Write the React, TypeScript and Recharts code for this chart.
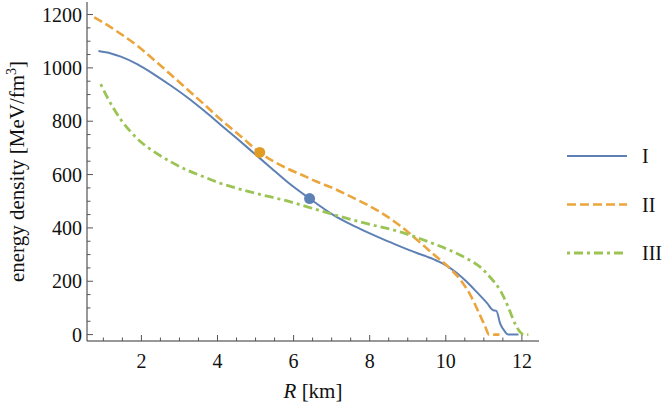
import React from "react";
import { LineChart, Line, XAxis, YAxis, ReferenceDot, Legend } from "recharts";

// radius R [km] and energy density [MeV/fm^3] for each model
const radiusI = [0.87, 1.2, 1.46, 1.9, 2.34, 2.77, 3.21, 3.65, 4.08, 4.52, 4.96, 5.4, 5.83, 6.42, 7.05, 7.49, 7.93, 8.36, 8.8, 9.24, 9.67, 10.03, 10.29, 10.55, 10.81, 11.08, 11.25, 11.33, 11.43, 11.56, 11.64, 11.91];
const densityI = [1063, 1054, 1042, 1013, 975, 934, 889, 839, 787, 734, 680, 626, 573, 510, 448, 414, 384, 357, 331, 306, 283, 258, 231, 198, 160, 119, 91, 89, 41, 10, 0, 0];

const radiusII = [0.76, 1.11, 1.46, 1.9, 2.34, 2.77, 3.21, 3.65, 4.08, 4.6, 5.11, 5.83, 6.18, 6.6, 7.05, 7.49, 7.93, 8.36, 8.8, 9.24, 9.67, 10.11, 10.38, 10.64, 10.86, 11.03, 11.14, 11.41];
const densityII = [1189, 1160, 1127, 1082, 1029, 975, 919, 863, 807, 745, 683, 623, 601, 574, 548, 518, 487, 452, 408, 356, 302, 248, 206, 150, 85, 32, 0, 0];

const radiusIII = [0.93, 1.11, 1.29, 1.46, 1.72, 1.98, 2.34, 2.77, 3.21, 3.65, 4.08, 4.52, 4.96, 5.4, 5.83, 6.36, 7.05, 7.93, 8.8, 9.67, 10.11, 10.55, 10.9, 11.16, 11.43, 11.64, 11.82, 11.95, 12.06, 12.17];
const densityIII = [939, 888, 843, 806, 760, 723, 685, 648, 616, 591, 567, 548, 531, 516, 501, 479, 450, 416, 385, 341, 316, 285, 254, 216, 166, 104, 41, 10, 0, 0];

// highlighted points on curves I and II
const markerRadius = [6.42, 5.11];
const markerDensity = [510, 683];

const seriesNames = ["I", "II", "III"];

const xMajorTicks = [2, 4, 6, 8, 10, 12];
const yMajorTicks = [0, 200, 400, 600, 800, 1000, 1200];

const steps = (from: number, to: number, step: number) => {
  const out: number[] = [];
  for (let v = from; v <= to + 1e-9; v += step) out.push(Math.round(v * 100) / 100);
  return out;
};
const xTicks = steps(1, 12, 0.5);
const yTicks = steps(0, 1200, 50);

const toRows = (xs: number[], ys: number[]) => xs.map((x, i) => ({ x, y: ys[i] }));

const FONT = "'Liberation Serif', 'DejaVu Serif', serif";
const TICK = "#555";
const FRAME = "#333";
const textStyle = { fontFamily: FONT, fontSize: 20 };

const styles = [
  { color: "#5E81B5", width: 2, dash: undefined as string | undefined },
  { color: "#EBA53C", width: 2.6, dash: "9 4" },
  { color: "#9BC455", width: 2.8, dash: "3 4 9 4" },
];
const markerColors = ["#5E81B5", "#E19C24"];

const series = [
  toRows(radiusI, densityI),
  toRows(radiusII, densityII),
  toRows(radiusIII, densityIII),
];

const XDOMAIN: [number, number] = [0.57, 12.45];
const YDOMAIN: [number, number] = [-24, 1247];

const tickLen = (major: boolean) => (major ? 6 : 3.5);

const BottomTick = (props: any) => {
  const { x, y, payload } = props;
  const major = xMajorTicks.includes(payload.value);
  return (
    <g>
      <line x1={x} y1={y} x2={x} y2={y - tickLen(major)} stroke={TICK} />
      {major && (
        <text x={x} y={y + 27} textAnchor="middle" style={textStyle} fill="#111">
          {payload.value}
        </text>
      )}
    </g>
  );
};

const TopTick = (props: any) => {
  const { x, y, payload } = props;
  const major = xMajorTicks.includes(payload.value);
  return <line x1={x} y1={y} x2={x} y2={y + tickLen(major)} stroke={TICK} />;
};

const LeftTick = (props: any) => {
  const { x, y, payload } = props;
  const major = yMajorTicks.includes(payload.value);
  return (
    <g>
      <line x1={x} y1={y} x2={x + tickLen(major)} y2={y} stroke={TICK} />
      {major && (
        <text x={x - 5} y={y + 7} textAnchor="end" style={textStyle} fill="#111">
          {payload.value}
        </text>
      )}
    </g>
  );
};

const RightTick = (props: any) => {
  const { x, y, payload } = props;
  const major = yMajorTicks.includes(payload.value);
  return <line x1={x} y1={y} x2={x - tickLen(major)} y2={y} stroke={TICK} />;
};

const YTitle = (props: any) => {
  const vb = props.viewBox;
  const cy = vb.y + vb.height / 2;
  return (
    <text
      transform={`translate(24, ${cy}) rotate(-90)`}
      textAnchor="middle"
      style={{ fontFamily: FONT, fontSize: 21 }}
      fill="#111"
    >
      <tspan>energy density [MeV/fm</tspan>
      <tspan dy={-8} style={{ fontSize: 14 }}>3</tspan>
      <tspan dy={8}>]</tspan>
    </text>
  );
};

const XTitle = (props: any) => {
  const vb = props.viewBox;
  return (
    <text x={vb.x + vb.width / 2} y={vb.y + 57} textAnchor="middle" style={{ fontFamily: FONT, fontSize: 21 }} fill="#111">
      <tspan style={{ fontStyle: "italic" }}>R</tspan>
      <tspan> [km]</tspan>
    </text>
  );
};

const LegendBox = () => (
  <svg width={105} height={140}>
    {seriesNames.map((name, i) => {
      const y = 21 + i * 48.5;
      const s = styles[i];
      return (
        <g key={name}>
          <line x1={7} y1={y} x2={67} y2={y} stroke={s.color} strokeWidth={s.width} strokeDasharray={s.dash} />
          <text x={82} y={y + 7} style={textStyle} fill="#111">
            {name}
          </text>
        </g>
      );
    })}
  </svg>
);

export default function App() {
  return (
    <div style={{ position: "absolute", left: 0, top: 0, background: "#fff" }}>
      <LineChart width={665} height={413} margin={{ top: 2, right: 126, bottom: 0, left: 0 }}>
        <XAxis
          dataKey="x"
          type="number"
          domain={XDOMAIN}
          allowDataOverflow
          ticks={xTicks}
          interval={0}
          tickLine={false}
          tickSize={0}
          tickMargin={0}
          tick={BottomTick}
          axisLine={{ stroke: FRAME }}
          height={72}
          label={XTitle}
        />
        <XAxis
          xAxisId="top"
          orientation="top"
          type="number"
          domain={XDOMAIN}
          allowDataOverflow
          ticks={xTicks}
          interval={0}
          tickLine={false}
          tickSize={0}
          tickMargin={0}
          tick={TopTick}
          axisLine={{ stroke: FRAME }}
          height={0}
        />
        <YAxis
          type="number"
          domain={YDOMAIN}
          allowDataOverflow
          ticks={yTicks}
          interval={0}
          tickLine={false}
          tickSize={0}
          tickMargin={0}
          tick={LeftTick}
          axisLine={{ stroke: FRAME }}
          width={87}
          label={YTitle}
        />
        <YAxis
          yAxisId="right"
          orientation="right"
          type="number"
          domain={YDOMAIN}
          allowDataOverflow
          ticks={yTicks}
          interval={0}
          tickLine={false}
          tickSize={0}
          tickMargin={0}
          tick={RightTick}
          axisLine={{ stroke: FRAME }}
          width={0}
        />
        {series.map((rows, i) => (
          <Line
            key={seriesNames[i]}
            data={rows}
            dataKey="y"
            name={seriesNames[i]}
            type="monotone"
            stroke={styles[i].color}
            strokeWidth={styles[i].width}
            strokeDasharray={styles[i].dash}
            dot={false}
            activeDot={false}
            isAnimationActive={false}
          />
        ))}
        {markerRadius.map((r, i) => (
          <ReferenceDot key={i} x={r} y={markerDensity[i]} r={5.5} fill={markerColors[i]} stroke="none" />
        ))}
        <Legend
          layout="vertical"
          align="center"
          verticalAlign="middle"
          content={LegendBox}
          wrapperStyle={{ left: 560, top: 135, width: 105 }}
        />
      </LineChart>
    </div>
  );
}
